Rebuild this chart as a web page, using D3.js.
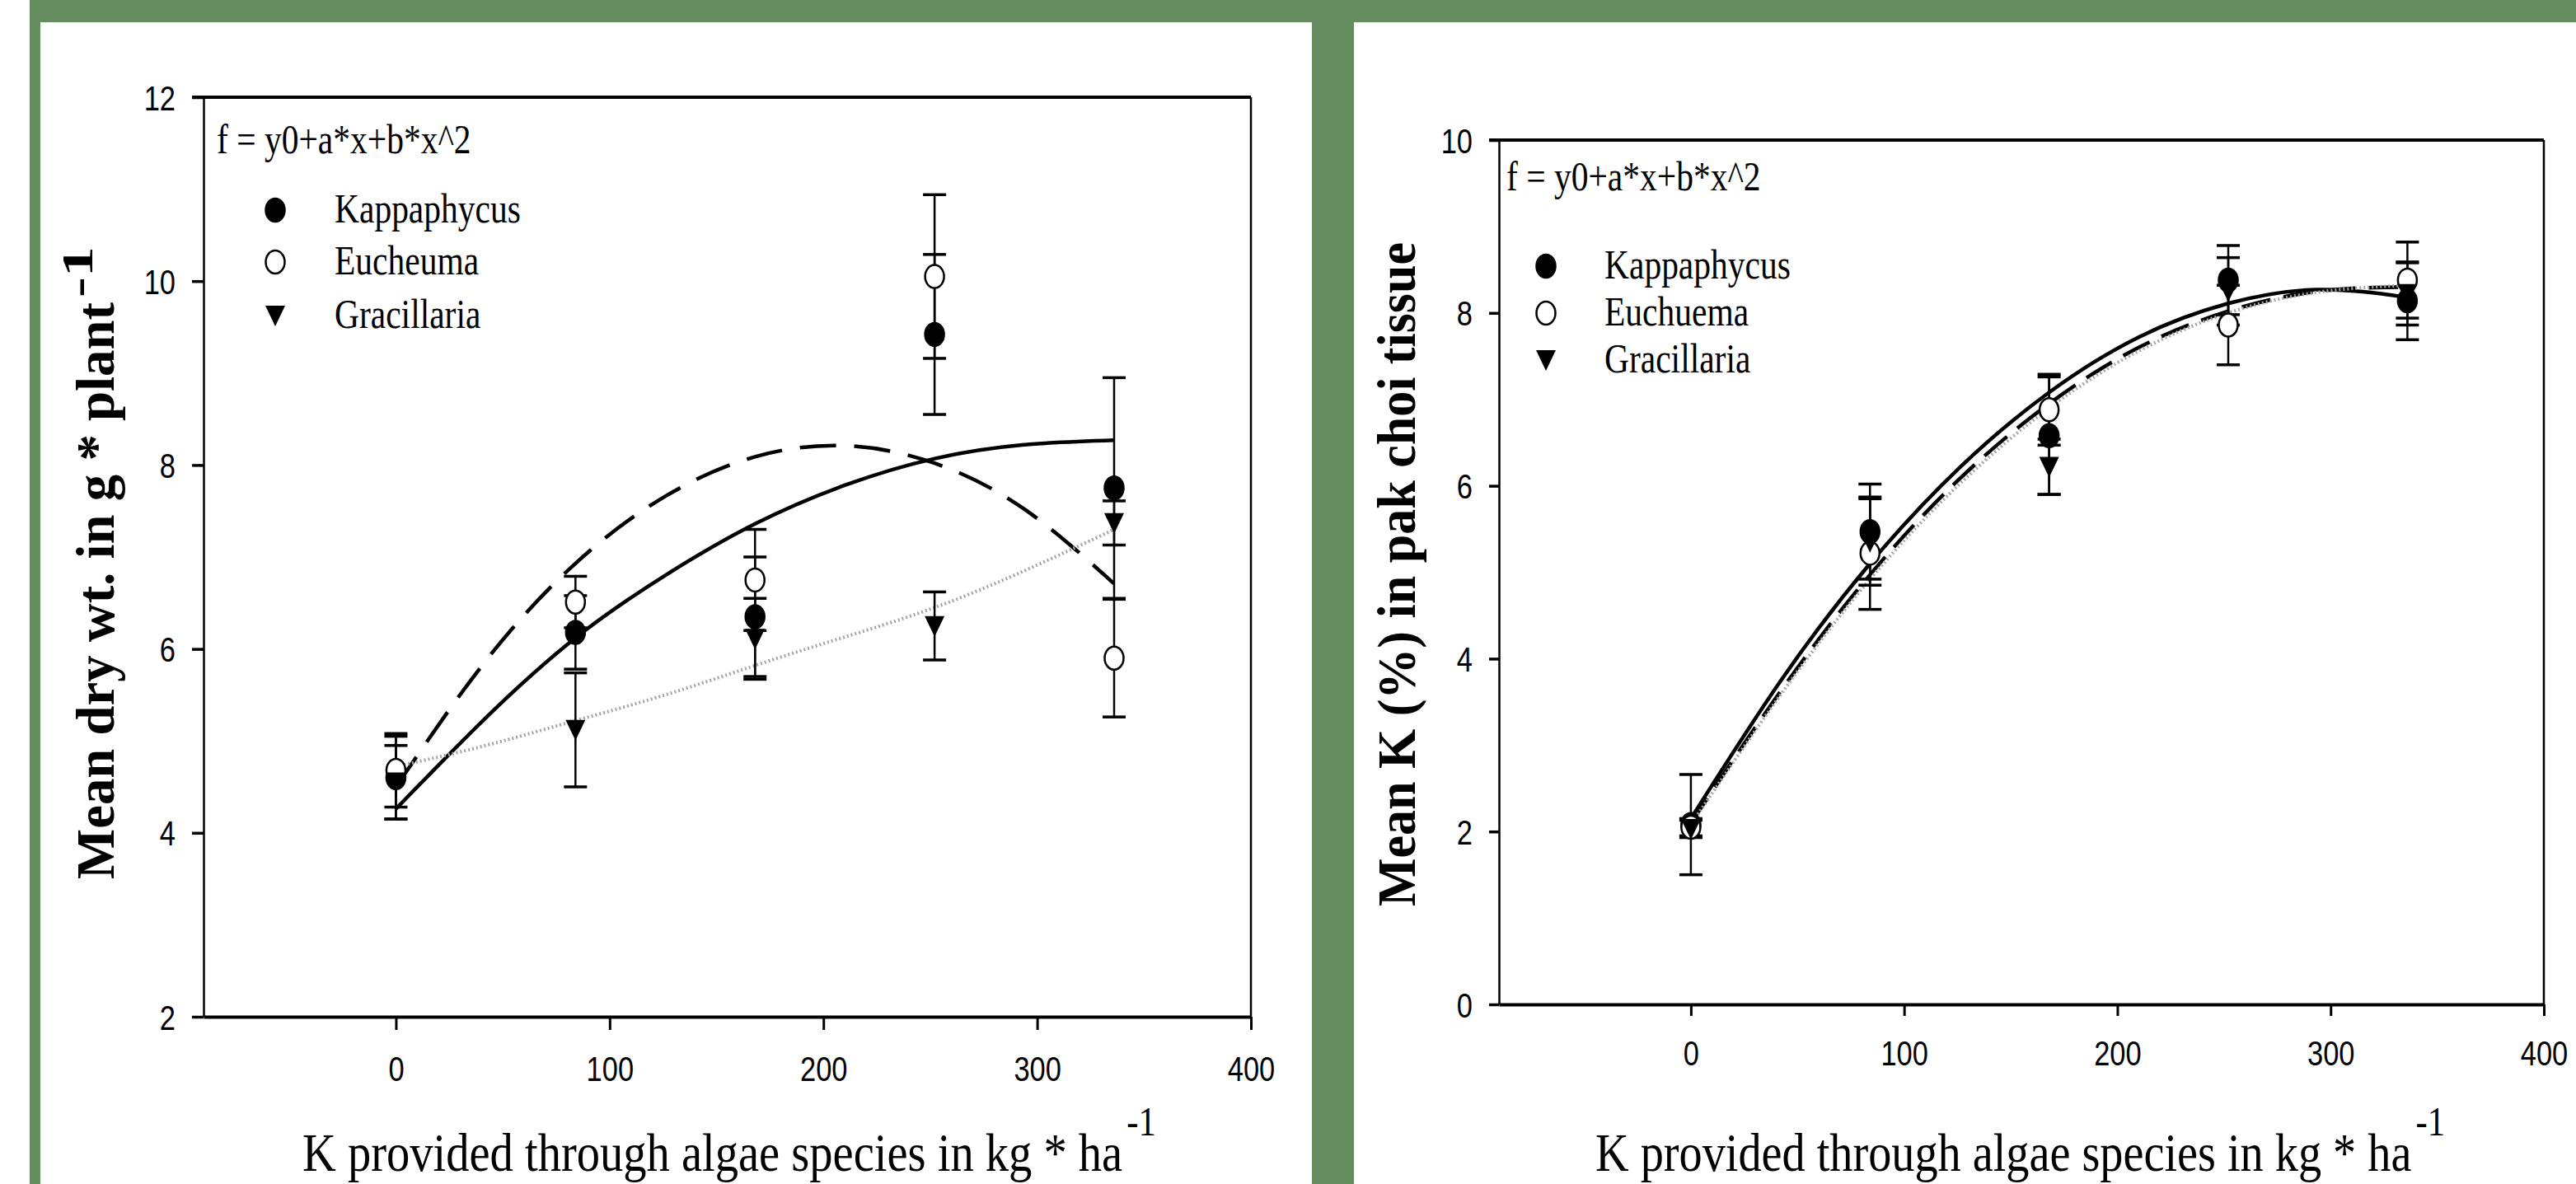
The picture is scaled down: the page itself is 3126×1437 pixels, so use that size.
<!DOCTYPE html>
<html>
<head>
<meta charset="utf-8">
<script src="https://cdn.jsdelivr.net/npm/d3@7"></script>
<style>
  body { margin: 0; background: #fff; }
  svg { display: block; }
</style>
</head>
<body>
<svg id="chart"></svg>
<script>
var width = 3126;
var height = 1437;
var green = "#658d60";

// K supplied through the algae (kg/ha)
var doses = [0, 84, 168, 252, 336];
var xTicks = [0, 100, 200, 300, 400];
var fitX = [0, 42, 84, 126, 168, 210, 252, 294, 336];

// left panel: mean dry weight (g / plant)
var dryTicks = [2, 4, 6, 8, 10, 12];
var dryNames = ["Kappaphycus", "Eucheuma", "Gracillaria"];
var dryKappa = [4.60, 6.18, 6.35, 9.42, 7.75];
var dryKappaErr = [0.45, 0.40, 0.65, 0.87, 1.20];
var dryEuch = [4.68, 6.51, 6.75, 10.05, 5.90];
var dryEuchErr = [0.40, 0.28, 0.55, 0.89, 0.64];
var dryGrac = [4.55, 5.12, 6.11, 6.25, 7.37];
var dryGracErr = [0.40, 0.62, 0.44, 0.37, 0.24];
// fitted curves (f = y0+a*x+b*x^2)
var dryFitKappa = [4.26, 5.25, 6.12, 6.80, 7.36, 7.78, 8.07, 8.22, 8.27];
var dryFitEuch = [4.50, 5.87, 6.93, 7.66, 8.09, 8.21, 8.02, 7.52, 6.71];
var dryFitGrac = [4.72, 4.95, 5.22, 5.50, 5.82, 6.13, 6.45, 6.85, 7.30];

// right panel: mean K (%) in pak choi tissue
var kTicks = [0, 2, 4, 6, 8, 10];
var kNames = ["Kappaphycus", "Euchuema", "Gracillaria"];
var kKappa = [2.08, 5.47, 6.58, 8.38, 8.14];
var kKappaErr = [0.58, 0.55, 0.68, 0.40, 0.45];
var kEuch = [2.05, 5.22, 6.88, 7.86, 8.38];
var kEuchErr = [0.10, 0.65, 0.41, 0.46, 0.44];
var kGrac = [2.03, 5.35, 6.22, 8.25, 8.22];
var kGracErr = [0.10, 0.50, 0.32, 0.39, 0.36];
var kFitKappa = [2.15, 3.74, 5.10, 6.21, 7.08, 7.72, 8.11, 8.27, 8.18];
var kFitEuch = [2.10, 3.62, 4.97, 6.08, 6.95, 7.60, 8.02, 8.25, 8.30];
var kFitGrac = [2.08, 3.58, 4.92, 6.02, 6.90, 7.56, 8.00, 8.24, 8.32];

var equation = "f = y0+a*x+b*x^2";
var xTitle = "K provided through algae species in kg * ha";

var svg = d3.select("#chart")
    .attr("width", width)
    .attr("height", height);

svg.append("rect").attr("width", width).attr("height", height).attr("fill", "#fff");

// green frame pieces
svg.append("rect").attr("x", 36).attr("y", 0).attr("width", width - 36).attr("height", 27).attr("fill", green);
svg.append("rect").attr("x", 36).attr("y", 0).attr("width", 13).attr("height", height).attr("fill", green);
svg.append("rect").attr("x", 1592).attr("y", 0).attr("width", 51).attr("height", height).attr("fill", green);

var serif = "'Liberation Serif', 'Times New Roman', serif";
var sans = "'Liberation Sans', Arial, sans-serif";
var squeeze = 0.83;   // the figure is horizontally condensed

function narrowText(parent, x, y, str, size, family) {
    return parent.append("text")
        .attr("transform", "translate(" + x + "," + y + ") scale(" + squeeze + ",1)")
        .attr("font-family", family)
        .attr("font-size", size)
        .attr("fill", "#000")
        .text(str);
}

function drawMarker(parent, kind, cx, cy) {
    if (kind == "triangle") {
        return parent.append("path")
            .attr("d", "M-12,-12L12,-12L0,13Z")
            .attr("transform", "translate(" + cx + "," + cy + ")")
            .attr("fill", "#000");
    }
    return parent.append("ellipse")
        .attr("cx", cx).attr("cy", cy)
        .attr("rx", 11.5).attr("ry", 14)
        .attr("fill", kind == "filled" ? "#000" : "#fff")
        .attr("stroke", "#000")
        .attr("stroke-width", 2.5);
}

function drawPanel(p) {
    var x = d3.scaleLinear().domain([-90, 400]).range([p.left, p.right]);
    var y = d3.scaleLinear().domain(p.yDomain).range([p.bottom, p.top]);
    var g = svg.append("g");

    // axes
    var xAxis = g.append("g")
        .attr("transform", "translate(0," + p.bottom + ")")
        .call(d3.axisBottom(x).tickValues(xTicks).tickSize(p.xTickLen).tickSizeOuter(0));
    xAxis.select(".domain").attr("stroke-width", 4);
    xAxis.selectAll(".tick line").attr("stroke-width", 3);
    xAxis.selectAll(".tick text")
        .attr("y", p.xLabelY).attr("dy", null)
        .attr("transform", "scale(0.82,1)")
        .attr("font-family", sans).attr("font-size", 42).attr("fill", "#000");

    var yAxis = g.append("g")
        .attr("transform", "translate(" + p.left + ",0)")
        .call(d3.axisLeft(y).tickValues(p.yTicks).tickSize(p.yTickLen).tickSizeOuter(0));
    yAxis.select(".domain").attr("stroke-width", 2.5);
    yAxis.selectAll(".tick line").attr("stroke-width", 3.5);
    yAxis.selectAll(".tick text")
        .attr("x", -p.yLabelGap / 0.82).attr("dy", "0.36em")
        .attr("transform", "scale(0.82,1)")
        .attr("font-family", sans).attr("font-size", 42).attr("fill", "#000");

    // top and right of the frame
    g.append("line")
        .attr("x1", p.left - p.yTickLen).attr("x2", p.right)
        .attr("y1", y(p.yDomain[1])).attr("y2", y(p.yDomain[1]))
        .attr("stroke", "#000").attr("stroke-width", 4);
    g.append("line")
        .attr("x1", p.right).attr("x2", p.right)
        .attr("y1", p.top).attr("y2", p.bottom)
        .attr("stroke", "#000").attr("stroke-width", 2.5);

    // fitted curves
    var line = d3.line()
        .x(function(d) { return x(d[0]); })
        .y(function(d) { return y(d[1]); })
        .curve(d3.curveNatural);

    p.series.forEach(function(s) {
        var path = g.append("path")
            .datum(fitX.map(function(v, i) { return [v, s.fit[i]]; }))
            .attr("d", line)
            .attr("fill", "none")
            .attr("stroke-linecap", "butt");
        if (s.line == "solid") {
            path.attr("stroke", "#000").attr("stroke-width", 4.5);
        } else if (s.line == "dashed") {
            path.attr("stroke", "#000").attr("stroke-width", 4.5).attr("stroke-dasharray", p.dash);
        } else {
            path.attr("stroke", "#a5a5a5").attr("stroke-width", 4).attr("stroke-dasharray", "2,3");
        }
    });

    // error bars
    p.series.forEach(function(s) {
        var eb = g.append("g").selectAll(".err")
            .data(doses)
          .enter().append("g")
            .attr("class", "err")
            .attr("stroke", "#000");
        eb.append("line")
            .attr("x1", function(d) { return x(d); })
            .attr("x2", function(d) { return x(d); })
            .attr("y1", function(d, i) { return y(s.mean[i] - s.err[i]); })
            .attr("y2", function(d, i) { return y(s.mean[i] + s.err[i]); })
            .attr("stroke-width", 2.5);
        [-1, 1].forEach(function(sign) {
            eb.append("line")
                .attr("x1", function(d) { return x(d) - 14; })
                .attr("x2", function(d) { return x(d) + 14; })
                .attr("y1", function(d, i) { return y(s.mean[i] + sign * s.err[i]); })
                .attr("y2", function(d, i) { return y(s.mean[i] + sign * s.err[i]); })
                .attr("stroke-width", 3.5);
        });
    });

    // points
    p.series.forEach(function(s) {
        doses.forEach(function(d, i) {
            drawMarker(g, s.marker, x(d), y(s.mean[i]));
        });
    });

    // equation and legend
    narrowText(g, p.eq[0], p.eq[1], equation, 50, serif);
    p.series.forEach(function(s, i) {
        drawMarker(g, s.marker, p.legend.mx, p.legend.rows[i]);
        narrowText(g, p.legend.tx, p.legend.rows[i] + 15, s.name, 50, serif);
    });

    // axis titles
    g.append("text")
        .attr("transform", "translate(" + p.yTitle.x + "," + p.yTitle.y + ") rotate(-90)")
        .attr("font-family", serif).attr("font-weight", "bold").attr("font-size", 66)
        .attr("textLength", p.yTitle.len).attr("lengthAdjust", "spacingAndGlyphs")
        .text(p.yTitle.text);
    if (p.yTitle.sup) {
        g.append("text")
            .attr("transform", "translate(" + (p.yTitle.x - 26) + "," + (p.yTitle.y - p.yTitle.len - 6) + ") rotate(-90)")
            .attr("font-family", serif).attr("font-weight", "bold").attr("font-size", 52)
            .attr("textLength", 62).attr("lengthAdjust", "spacingAndGlyphs")
            .text("-1");
    }

    // x title with its superscript in one text element
    var xt = g.append("text")
        .attr("x", p.xTitle.x).attr("y", p.xTitle.y)
        .attr("font-family", serif).attr("font-size", 66)
        .attr("textLength", p.xTitle.len).attr("lengthAdjust", "spacingAndGlyphs");
    xt.append("tspan").text(xTitle);
    xt.append("tspan")
        .attr("dx", 6).attr("dy", -43)
        .attr("font-size", 50)
        .text("-1");
}

drawPanel({
    left: 247, right: 1518, top: 118, bottom: 1234,
    yDomain: [2, 12], yTicks: dryTicks,
    xTickLen: 16, yTickLen: 14, xLabelY: 78, yLabelGap: 34,
    dash: "44,22",
    series: [
        { name: dryNames[0], mean: dryKappa, err: dryKappaErr, fit: dryFitKappa, marker: "filled", line: "solid" },
        { name: dryNames[1], mean: dryEuch, err: dryEuchErr, fit: dryFitEuch, marker: "open", line: "dashed" },
        { name: dryNames[2], mean: dryGrac, err: dryGracErr, fit: dryFitGrac, marker: "triangle", line: "dotted" }
    ],
    eq: [263, 186],
    legend: { mx: 334, tx: 406, rows: [255, 318, 383] },
    yTitle: { text: "Mean dry wt. in g * plant", x: 138, y: 1067, len: 700, sup: true },
    xTitle: { x: 367, y: 1421, len: 1036 }
});

drawPanel({
    left: 1819, right: 3087, top: 170, bottom: 1219,
    yDomain: [0, 10], yTicks: kTicks,
    xTickLen: 14, yTickLen: 12, xLabelY: 74, yLabelGap: 32,
    dash: "36,16",
    series: [
        { name: kNames[0], mean: kKappa, err: kKappaErr, fit: kFitKappa, marker: "filled", line: "solid" },
        { name: kNames[1], mean: kEuch, err: kEuchErr, fit: kFitEuch, marker: "open", line: "dashed" },
        { name: kNames[2], mean: kGrac, err: kGracErr, fit: kFitGrac, marker: "triangle", line: "dotted" }
    ],
    eq: [1828, 231],
    legend: { mx: 1876, tx: 1947, rows: [323, 380, 437] },
    yTitle: { text: "Mean K (%) in pak choi tissue", x: 1717, y: 1100, len: 806, sup: false },
    xTitle: { x: 1936, y: 1421, len: 1031 }
});
</script>
</body>
</html>
